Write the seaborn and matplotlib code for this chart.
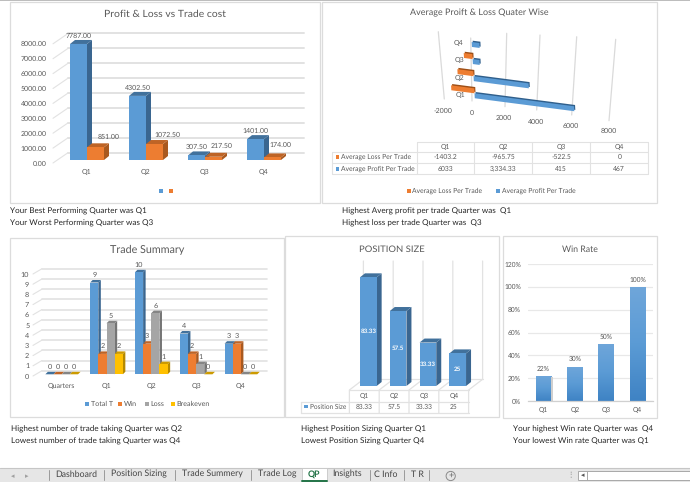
import numpy as np
import pandas as pd
import matplotlib
matplotlib.use('Agg')
import matplotlib.pyplot as plt
import seaborn as sns
from matplotlib.colors import LinearSegmentedColormap
from matplotlib.lines import Line2D
from matplotlib.patches import Polygon, Rectangle, Circle
from matplotlib.transforms import Affine2D, IdentityTransform

# データ
quarters = ['Q1', 'Q2', 'Q3', 'Q4']
profit_loss = [7787.00, 4302.50, 307.50, 1401.00]
trade_cost = [851.00, 1072.50, 217.50, 174.00]

avg_loss = [-1403.2, -965.75, -522.5, 0]
avg_profit = [6033, 3334.33, 415, 467]
avg_loss_text = ['-1403.2', '-965.75', '-522.5', '0']
avg_profit_text = ['6033', '3,334.33', '415', '467']

summary_quarters = ['Quarters', 'Q1', 'Q2', 'Q3', 'Q4']
total_trades = [0, 9, 10, 4, 3]
win_trades = [0, 2, 3, 2, 3]
loss_trades = [0, 5, 6, 1, 0]
breakeven_trades = [0, 2, 1, 0, 0]

position_size = [83.33, 57.5, 33.33, 25]
win_rate = [0.22, 0.30, 0.50, 1.00]

tab_names = ['Dashboard', 'Position Sizing', 'Trade Summery', 'Trade Log', 'QP', 'Insights', 'C Info', 'T R']

W, H = 690, 482
BLUE, ORANGE, GRAY, GOLD = '#5B9BD5', '#ED7D31', '#A5A5A5', '#FFC000'
BLUE_DK, ORANGE_DK, GRAY_DK, GOLD_DK = '#3A6690', '#A9591F', '#757575', '#B58900'
BLUE_TOP, ORANGE_TOP, GRAY_TOP, GOLD_TOP = '#41719C', '#BE6426', '#858585', '#CC9A00'
TXT = '#595959'
LINE = '#E2E2E2'

sns.set_theme(style='white')
plt.rcParams['font.family'] = ['Lato', 'DejaVu Sans']
plt.rcParams['text.hinting'] = 'none'

fig = plt.figure(figsize=(W / 100, H / 100), dpi=100, facecolor='white')

# 全体をピクセル座標で扱うキャンバス
canvas = fig.add_axes([0, 0, 1, 1], zorder=0)
canvas.set_xlim(0, W)
canvas.set_ylim(H, 0)
canvas.axis('off')


def make_ax(left, top, right, bottom):
    ax = fig.add_axes([left / W, 1 - bottom / H, (right - left) / W, (bottom - top) / H], zorder=2)
    ax.patch.set_alpha(0)
    return ax


def style_ax(ax, ysize=5, xsize=5, ypad=7, xpad=6):
    sns.despine(ax=ax, left=True, bottom=True)
    ax.set_xlabel('')
    ax.set_ylabel('')
    ax.tick_params(axis='y', length=0, pad=ypad, labelsize=ysize, labelcolor=TXT)
    ax.tick_params(axis='x', length=0, pad=xpad, labelsize=xsize, labelcolor=TXT)


def disp(ax, x, y):
    return ax.transData.transform((x, y))


def poly(ax, pts, color, zorder=1):
    # ピクセル座標のポリゴン
    ax.add_patch(Polygon(pts, closed=True, facecolor=color, edgecolor='none',
                         transform=IdentityTransform(), clip_on=False, zorder=zorder))


def line_px(ax, pts, color=LINE, lw=1.0, zorder=0.5):
    xs = [p[0] for p in pts]
    ys = [H - p[1] for p in pts]
    ax.add_line(Line2D(xs, ys, color=color, lw=lw, transform=IdentityTransform(), clip_on=False, zorder=zorder))


def extrude(ax, bar, dx, dy, side, top):
    # 棒の側面と上面を描く
    x0, y0 = disp(ax, bar.get_x(), bar.get_y())
    x1, y1 = disp(ax, bar.get_x() + bar.get_width(), bar.get_y() + bar.get_height())
    poly(ax, [(x1, y0), (x1 + dx, y0 + dy), (x1 + dx, y1 + dy), (x1, y1)], side, zorder=bar.get_zorder() - 0.1)
    poly(ax, [(x0, y1), (x1, y1), (x1 + dx, y1 + dy), (x0 + dx, y1 + dy)], top, zorder=bar.get_zorder() - 0.1)


def back_wall(ax, ticks, x0, x1, x2, drop, rise, lw=1.2):
    # 奥の壁の目盛線
    for t in ticks:
        y = H - disp(ax, 0, t)[1]
        line_px(ax, [(x0, y + drop), (x1, y - rise)], lw=0.8)
        line_px(ax, [(x1, y - rise), (x2, y - rise)], lw=lw)


def shift_labels(labels, dx, dy):
    for lab in labels:
        lab.set_transform(lab.get_transform() + Affine2D().translate(dx, dy))


def panel(x0, y0, x1, y1):
    canvas.add_patch(Rectangle((x0, y0), x1 - x0, y1 - y0, facecolor='white', edgecolor='#DCDCDC', lw=0.9))


def label(x, y, s, size=5, color=TXT, ha='center', **kw):
    canvas.text(x, y, s, fontsize=size, color=color, ha=ha, va='center', zorder=5, **kw)


def key(x, y, color, size=4):
    canvas.add_patch(Rectangle((x - size / 2, y - size / 2), size, size, facecolor=color, edgecolor='none', zorder=5))


canvas.add_patch(Rectangle((0, 0), W, 1.2, facecolor='#BDBDBD', edgecolor='none'))
panel(10, 1.5, 320, 203)
panel(322, 1.5, 657, 203)
panel(10, 238, 284, 417)
panel(285, 236, 499, 417)
panel(503, 236, 657, 418)

# ---- Profit & Loss vs Trade cost ----
label(165, 14, 'Profit & Loss vs Trade cost', size=7.5)
ax1 = make_ax(57.5, 40.8, 293.5, 160)
df1 = pd.DataFrame({'quarter': quarters * 2,
                    'value': profit_loss + trade_cost,
                    'series': ['pl'] * 4 + ['cost'] * 4})
sns.barplot(data=df1, x='quarter', y='value', hue='series', palette=[BLUE, ORANGE], saturation=1,
            width=0.576, gap=0, linewidth=0, legend=False, ax=ax1)
style_ax(ax1, ypad=7.6, xpad=6.5)
ax1.set_xlim(-0.5, 3.5)
ax1.set_ylim(0, 8000)
ax1.set_yticks(np.arange(0, 8001, 1000))
ax1.set_yticklabels([f'{t:.2f}' for t in np.arange(0, 8001, 1000)])
shift_labels(ax1.get_yticklabels(), 0, -3)
back_wall(ax1, np.arange(0, 8001, 1000), 53, 68, 304, 3, 7.3, lw=1.4)
cost_offsets = [(13, 10), (13, 9), (8, 11), (8, 12)]
for i, bar in enumerate(ax1.containers[0]):
    extrude(ax1, bar, 5, 4, BLUE_DK, BLUE_TOP)
    ax1.annotate(f'{profit_loss[i]:.2f}', (bar.get_x() + bar.get_width() / 2, bar.get_height()),
                 xytext=(0, 8 / 1.39), textcoords='offset points', ha='center', va='center', fontsize=5, color=TXT, zorder=6)
for i, bar in enumerate(ax1.containers[1]):
    extrude(ax1, bar, 5, 4, ORANGE_DK, ORANGE_TOP)
    off = cost_offsets[i]
    ax1.annotate(f'{trade_cost[i]:.2f}', (bar.get_x() + bar.get_width() / 2, bar.get_height()),
                 xytext=(off[0] / 1.39, off[1] / 1.39), textcoords='offset points', ha='center', va='center', fontsize=5, color=TXT, zorder=6)
key(161, 191, BLUE)
key(171, 191, ORANGE)

# ---- Average Proift & Loss ----
label(479, 13, 'Average Proift & Loss Quater Wise', size=6.5)
ax2 = make_ax(420, 30, 640, 130)
df2 = pd.DataFrame({'quarter': quarters * 2,
                    'value': avg_profit + avg_loss,
                    'series': ['profit'] * 4 + ['loss'] * 4})
sns.barplot(data=df2, y='quarter', x='value', hue='series', palette=[BLUE, ORANGE], saturation=1,
            width=0.58, gap=0, linewidth=0, legend=False, ax=ax2)
ax2.axis('off')
# 値とカテゴリからピクセルへの斜めの写像
skew = Affine2D.from_values(0.0165, -0.00215, -0.94, 17.1, 474.5, 388.7)
for cont, dark in [(ax2.containers[0], '#2F5F8C'), (ax2.containers[1], '#9E4F16')]:
    for bar in cont:
        r = Rectangle(bar.get_xy(), bar.get_width(), bar.get_height(), facecolor=dark, edgecolor='none',
                      transform=skew + Affine2D().translate(1, 1.3), clip_on=False, zorder=1.5)
        ax2.add_patch(r)
        bar.set_transform(skew)
        bar.set_clip_on(False)
        bar.set_zorder(2)
# 奥行きのある目盛線
wall_values = [-2000, 0, 2000, 4000, 6000, 8000]
wall_top = [(438.3, 31.7), (470.7, 38), (506.7, 33.3), (540, 35), (576.7, 36.7), (615.7, 39.3)]
wall_bottom = [(444.3, 99), (472, 101), (505, 106.7), (536.7, 110), (571.7, 115), (609, 120.7)]
wall_text = [(443.3, 110.7), (472, 112.7), (503.3, 117.7), (535.7, 121.7), (570.7, 126), (608.3, 131.3)]
for i, v in enumerate(wall_values):
    line_px(ax2, [wall_top[i], wall_bottom[i]], color='#DADADA', lw=0.9)
    label(wall_text[i][0], wall_text[i][1], str(v), size=5)
for i, q in enumerate(quarters):
    lx, ly = skew.transform((0, i))
    label(lx - 13.8 + i * 0.1, H - ly + 2 - i * 0.35, q, size=5)
# 表
cols2 = [416.7, 474.3, 532.3, 590.3, 648.3]
rows2 = [142.3, 151.7, 163.3, 174.3]
for y in rows2[1:]:
    canvas.plot([331.7, cols2[-1]], [y, y], color=LINE, lw=0.8)
canvas.plot([cols2[0], cols2[-1]], [rows2[0], rows2[0]], color=LINE, lw=0.8)
for x in cols2:
    canvas.plot([x, x], [rows2[0], rows2[-1]], color=LINE, lw=0.8)
canvas.plot([331.7, 331.7], [rows2[1], rows2[-1]], color=LINE, lw=0.8)
for i, q in enumerate(quarters):
    cx = (cols2[i] + cols2[i + 1]) / 2
    label(cx, 147, q, size=4.9)
    label(cx, 157, avg_loss_text[i], size=4.9)
    label(cx, 169, avg_profit_text[i], size=4.9)
key(337.3, 157, ORANGE, 3.4)
key(337.3, 169, BLUE, 3.4)
label(340.7, 157, 'Average Loss Per Trade', size=4.9, ha='left')
label(340.7, 169, 'Average Profit Per Trade', size=4.9, ha='left')
key(409, 191, ORANGE)
key(497.7, 191, BLUE)
label(412.3, 191, 'Average Loss Per Trade', size=4.9, ha='left')
label(501.7, 191, 'Average Profit Per Trade', size=4.9, ha='left')

# ---- Trade Summary ----
label(146.7, 249.7, 'Trade Summary', size=7.75)
ax3 = make_ax(39.3, 272.3, 263.3, 374.3)
series3 = ['Total T', 'Win', 'Loss', 'Breakeven']
df3 = pd.DataFrame({'quarter': summary_quarters * 4,
                    'value': total_trades + win_trades + loss_trades + breakeven_trades,
                    'series': [s for s in series3 for _ in summary_quarters]})
sns.barplot(data=df3, x='quarter', y='value', hue='series', palette=[BLUE, ORANGE, GRAY, GOLD], saturation=1,
            width=0.73, gap=0, linewidth=0, legend=False, ax=ax3)
style_ax(ax3, ysize=5.2, ypad=7.2, xpad=5.8)
ax3.set_xlim(-0.5, 4.5)
ax3.set_ylim(0, 10)
ax3.set_yticks(range(0, 11))
shift_labels(ax3.get_yticklabels(), 0, -1.7)
back_wall(ax3, range(0, 11), 33, 42, 267, 1.7, 3.6)
shades3 = [(BLUE_DK, BLUE_TOP), (ORANGE_DK, ORANGE_TOP), (GRAY_DK, GRAY_TOP), (GOLD_DK, GOLD_TOP)]
for cont, (side, top) in zip(ax3.containers, shades3):
    for bar in cont:
        extrude(ax3, bar, 2.5, 2.5, side, top)
        ax3.annotate(f'{bar.get_height():.0f}', (bar.get_x() + bar.get_width() / 2, bar.get_height()),
                     xytext=(0, 7.5 / 1.39), textcoords='offset points', ha='center', va='center', fontsize=5.2, color=TXT, zorder=6)
legend_x = [87, 120, 146.7, 172.7]
for x, s, c in zip(legend_x, series3, [BLUE, ORANGE, GRAY, GOLD]):
    key(x, 404.3, c)
    label(x + 4, 404.3, s, size=5.1, ha='left')

# ---- Position Size ----
label(391.7, 249, 'POSITION SIZE', size=6.8)
ax4 = make_ax(353.4, 255.6, 472.6, 386)
df4 = pd.DataFrame({'quarter': quarters, 'value': position_size})
sns.barplot(data=df4, x='quarter', y='value', color=BLUE, saturation=1, width=0.56, linewidth=0, ax=ax4)
style_ax(ax4)
ax4.set_xlim(-0.5, 3.5)
ax4.set_ylim(0, 100)
ax4.set_xticks([])
ax4.set_yticks([])
for bar in ax4.containers[0]:
    extrude(ax4, bar, 5, 4, BLUE_DK, BLUE_TOP)
ax4.bar_label(ax4.containers[0], fmt='%g', label_type='center', color='white', fontsize=4.5, fontweight='bold')
ax4_edges = [disp(ax4, e, 0)[0] for e in np.arange(-0.5, 4)]
for ex in ax4_edges:
    line_px(ax4, [(ex + 10, 261), (ex + 10, 379.3), (ex - 4, 390), (ex - 4, 413.3)], lw=0.9)
line_px(ax4, [(ax4_edges[0] + 10, 379.3), (ax4_edges[-1] + 10, 379.3)], lw=0.9)
for y in (390, 401.7, 413.3):
    x_start = 300.7 if y > 395 else ax4_edges[0] - 4
    line_px(ax4, [(x_start, y), (ax4_edges[-1] - 4, y)], lw=0.9)
line_px(ax4, [(300.7, 401.7), (300.7, 413.3)], lw=0.9)
for i, ex in enumerate(ax4_edges[:-1]):
    label(ex + 11, 396.3, quarters[i], size=4.8)
    label(ex + 11, 406.5, f'{position_size[i]:g}', size=4.8)
key(306, 406.5, BLUE, 3.4)
label(309.5, 406.5, 'Position Size', size=4.7, ha='left')

# ---- Win Rate ----
label(580, 249, 'Win Rate', size=6.3)
ax5 = make_ax(527.7, 264, 653.3, 401)
df5 = pd.DataFrame({'quarter': quarters, 'value': win_rate})
sns.barplot(data=df5, x='quarter', y='value', color=BLUE, saturation=1, width=0.5, linewidth=0, ax=ax5)
style_ax(ax5, ysize=4.8, xsize=4.8, ypad=4.8, xpad=4.5)
ax5.set_ylim(0, 1.2)
ax5.set_yticks(np.arange(0, 1.21, 0.2))
ax5.set_yticklabels([f'{t * 100:.0f}%' for t in np.arange(0, 1.21, 0.2)])
ax5.grid(axis='y', color='#E8E8E8', lw=0.9)
ax5.set_axisbelow(True)
ax5.spines['bottom'].set_visible(True)
ax5.spines['bottom'].set_color('#D0D0D0')
ax5.spines['bottom'].set_linewidth(0.9)
bar_cmap = LinearSegmentedColormap.from_list('bar', ['#3F83C4', '#5B9BD5', '#6FA6DA'])
for bar in ax5.containers[0]:
    x0, x1 = bar.get_x(), bar.get_x() + bar.get_width()
    px0, py0 = disp(ax5, x0, 0)
    px1, py1 = disp(ax5, x1, bar.get_height())
    poly(ax5, [(px1, py0), (px1 + 1.5, py0), (px1 + 1.5, py1 - 1), (px1, py1 - 1)], '#CFCFCF', zorder=1.5)
    im = ax5.imshow(np.linspace(1, 0, 64)[:, None], cmap=bar_cmap, extent=(x0, x1, 0, bar.get_height()),
                    aspect='auto', zorder=bar.get_zorder() + 0.1)
    im.set_clip_path(bar)
ax5.set_xlim(-0.5, 3.5)
ax5.set_ylim(0, 1.2)
ax5.bar_label(ax5.containers[0], labels=[f'{v * 100:.0f}%' for v in win_rate], padding=3, fontsize=4.8, color=TXT, zorder=6)

# ---- 下の説明文 ----
notes = [
    (10.3, 211, 'Your Best Performing Quarter was Q1'),
    (10.3, 223, 'Your Worst Performing Quarter was Q3'),
    (341.7, 211, 'Highest Averg profit per trade Quarter was  Q1'),
    (341.7, 223, 'Highest loss per trade Quarter was  Q3'),
    (10.7, 429.7, 'Highest number of trade taking Quarter was Q2'),
    (10.7, 441.7, 'Lowest number of trade taking Quarter was Q4'),
    (301, 429.7, 'Highest Position Sizing Quarter Q1'),
    (301, 441.7, 'Lowest Position Sizing Quarter Q4'),
    (513.3, 429.7, 'Your highest Win rate Quarter was  Q4'),
    (513.3, 441.7, 'Your lowest Win rate Quarter was Q1'),
]
for x, y, s in notes:
    label(x, y, s, size=5.9, color='#262626', ha='left')

# ---- シートのタブ ----
canvas.add_patch(Rectangle((0, 468), W, 14, facecolor='#E6E6E6', edgecolor='none'))
canvas.plot([0, W], [468, 468], color='#C6C6C6', lw=0.8)
canvas.add_patch(Rectangle((302, 468), 24.7, 14, facecolor='white', edgecolor='#C6C6C6', lw=0.6, zorder=2))
canvas.plot([302, 326.7], [481.3, 481.3], color='#217346', lw=1.4, zorder=3)
tab_x = [76, 138.7, 212.3, 277, 314.3, 347, 386, 417]
for x, name in zip(tab_x, tab_names):
    if name == 'QP':
        label(x, 474.3, name, size=6.3, color='#217346', fontweight='bold')
    else:
        label(x, 474.3, name, size=6.3, color='#444444')
for x in [49.3, 104.3, 175, 251, 370.3, 404.3, 429.3]:
    canvas.plot([x, x], [470, 480], color='#9A9A9A', lw=0.7)
label(13, 476, '◂', size=5, color='#A0A0A0')
label(27, 476, '▸', size=5, color='#A0A0A0')
canvas.add_patch(Circle((450.7, 476), 4.6, facecolor='#E6E6E6', edgecolor='#8A8A8A', lw=0.7, zorder=3))
label(450.7, 475.7, '+', size=6.5, color='#666666')
label(570, 475, '⋮', size=6, color='#888888')
canvas.add_patch(Rectangle((578, 471), 113, 9, facecolor='white', edgecolor='#A8A8A8', lw=0.7, zorder=3))
canvas.plot([587, 587], [471, 480], color='#A8A8A8', lw=0.7, zorder=4)
label(582.5, 475.5, '◂', size=5, color='#555555')

fig.savefig('out.png', dpi=100)
